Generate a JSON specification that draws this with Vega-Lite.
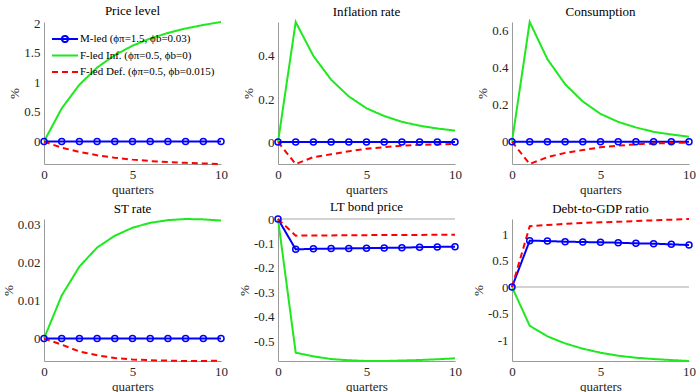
{
  "$schema": "https://vega.github.io/schema/vega-lite/v6.json",
  "padding": {"left": 2, "top": 5, "right": 5, "bottom": 0},
  "data": {"values": [
    {"p":"price","q":0,"M":0,"FI":0,"FD":0},
    {"p":"price","q":1,"M":0,"FI":0.56,"FD":-0.105},
    {"p":"price","q":2,"M":0,"FI":0.96,"FD":-0.175},
    {"p":"price","q":3,"M":0,"FI":1.25,"FD":-0.232},
    {"p":"price","q":4,"M":0,"FI":1.46,"FD":-0.275},
    {"p":"price","q":5,"M":0,"FI":1.62,"FD":-0.306},
    {"p":"price","q":6,"M":0,"FI":1.74,"FD":-0.33},
    {"p":"price","q":7,"M":0,"FI":1.835,"FD":-0.347},
    {"p":"price","q":8,"M":0,"FI":1.91,"FD":-0.36},
    {"p":"price","q":9,"M":0,"FI":1.97,"FD":-0.371},
    {"p":"price","q":10,"M":0,"FI":2.02,"FD":-0.38},
    {"p":"infl","q":0,"M":0,"FI":0,"FD":0},
    {"p":"infl","q":1,"M":0,"FI":0.558,"FD":-0.102},
    {"p":"infl","q":2,"M":0,"FI":0.40,"FD":-0.07},
    {"p":"infl","q":3,"M":0,"FI":0.29,"FD":-0.057},
    {"p":"infl","q":4,"M":0,"FI":0.212,"FD":-0.043},
    {"p":"infl","q":5,"M":0,"FI":0.157,"FD":-0.031},
    {"p":"infl","q":6,"M":0,"FI":0.121,"FD":-0.024},
    {"p":"infl","q":7,"M":0,"FI":0.094,"FD":-0.017},
    {"p":"infl","q":8,"M":0,"FI":0.076,"FD":-0.013},
    {"p":"infl","q":9,"M":0,"FI":0.063,"FD":-0.011},
    {"p":"infl","q":10,"M":0,"FI":0.053,"FD":-0.009},
    {"p":"cons","q":0,"M":0,"FI":0,"FD":0},
    {"p":"cons","q":1,"M":0,"FI":0.645,"FD":-0.12},
    {"p":"cons","q":2,"M":0,"FI":0.445,"FD":-0.083},
    {"p":"cons","q":3,"M":0,"FI":0.31,"FD":-0.06},
    {"p":"cons","q":4,"M":0,"FI":0.217,"FD":-0.045},
    {"p":"cons","q":5,"M":0,"FI":0.15,"FD":-0.03},
    {"p":"cons","q":6,"M":0,"FI":0.107,"FD":-0.021},
    {"p":"cons","q":7,"M":0,"FI":0.077,"FD":-0.014},
    {"p":"cons","q":8,"M":0,"FI":0.053,"FD":-0.009},
    {"p":"cons","q":9,"M":0,"FI":0.039,"FD":-0.007},
    {"p":"cons","q":10,"M":0,"FI":0.027,"FD":-0.005},
    {"p":"st","q":0,"M":0,"FI":0,"FD":0},
    {"p":"st","q":1,"M":0,"FI":0.0113,"FD":-0.0016},
    {"p":"st","q":2,"M":0,"FI":0.0189,"FD":-0.0034},
    {"p":"st","q":3,"M":0,"FI":0.0239,"FD":-0.0044},
    {"p":"st","q":4,"M":0,"FI":0.027,"FD":-0.0051},
    {"p":"st","q":5,"M":0,"FI":0.0291,"FD":-0.0055},
    {"p":"st","q":6,"M":0,"FI":0.0304,"FD":-0.0057},
    {"p":"st","q":7,"M":0,"FI":0.0311,"FD":-0.0058},
    {"p":"st","q":8,"M":0,"FI":0.0314,"FD":-0.0059},
    {"p":"st","q":9,"M":0,"FI":0.0313,"FD":-0.0059},
    {"p":"st","q":10,"M":0,"FI":0.031,"FD":-0.0058},
    {"p":"lt","q":0,"M":0,"FI":0,"FD":0},
    {"p":"lt","q":1,"M":-0.124,"FI":-0.546,"FD":-0.068},
    {"p":"lt","q":2,"M":-0.122,"FI":-0.561,"FD":-0.067},
    {"p":"lt","q":3,"M":-0.121,"FI":-0.572,"FD":-0.067},
    {"p":"lt","q":4,"M":-0.12,"FI":-0.577,"FD":-0.066},
    {"p":"lt","q":5,"M":-0.119,"FI":-0.58,"FD":-0.066},
    {"p":"lt","q":6,"M":-0.118,"FI":-0.58,"FD":-0.065},
    {"p":"lt","q":7,"M":-0.117,"FI":-0.578,"FD":-0.065},
    {"p":"lt","q":8,"M":-0.115,"FI":-0.576,"FD":-0.065},
    {"p":"lt","q":9,"M":-0.114,"FI":-0.573,"FD":-0.064},
    {"p":"lt","q":10,"M":-0.113,"FI":-0.569,"FD":-0.064},
    {"p":"debt","q":0,"M":0,"FI":0,"FD":0},
    {"p":"debt","q":1,"M":0.874,"FI":-0.73,"FD":1.145},
    {"p":"debt","q":2,"M":0.868,"FI":-0.93,"FD":1.17},
    {"p":"debt","q":3,"M":0.855,"FI":-1.063,"FD":1.19},
    {"p":"debt","q":4,"M":0.849,"FI":-1.163,"FD":1.21},
    {"p":"debt","q":5,"M":0.843,"FI":-1.239,"FD":1.22},
    {"p":"debt","q":6,"M":0.836,"FI":-1.296,"FD":1.23},
    {"p":"debt","q":7,"M":0.824,"FI":-1.333,"FD":1.245},
    {"p":"debt","q":8,"M":0.818,"FI":-1.358,"FD":1.258},
    {"p":"debt","q":9,"M":0.805,"FI":-1.377,"FD":1.27},
    {"p":"debt","q":10,"M":0.792,"FI":-1.395,"FD":1.283}
  ]},
  "columns": 3,
  "spacing": {"row": 55, "column": 57},
  "bounds": "flush",
  "resolve": {"scale": {"x": "independent", "y": "independent", "color": "independent", "strokeDash": "independent"}},
  "concat": [
    {
      "title": {"text": "Price level", "fontWeight": "normal"}, "width": 177, "height": 142,
      "layer": [
        {"data": {"values": [{}]}, "mark": {"type": "rule", "color": "#a6a6a6", "strokeWidth": 1}, "encoding": {"y": {"datum": 0, "type": "quantitative"}}},
        {"transform": [{"filter": "datum.p==='price'"}, {"fold": ["M","FI","FD"], "as": ["s","v"]}],
         "mark": {"type": "line", "strokeWidth": 2},
         "encoding": {
           "x": {"field": "q", "type": "quantitative", "scale": {"domain": [0,10], "nice": false}, "axis": {"values": [0,5,10], "title": "quarters", "labelExpr": "''+datum.value"}},
           "y": {"field": "v", "type": "quantitative", "scale": {"nice": false, "zero": false}, "axis": {"values": [0,0.5,1,1.5,2], "tickCount": 20, "title": "%", "labelOverlap": false, "labelExpr": "''+datum.value"}},
           "color": {"field": "s", "type": "nominal", "scale": {"domain": ["M","FI","FD"], "range": ["#0000ff","#1ee81e","#ff0000"]},
             "legend": {"orient": "none", "legendX": 7, "legendY": 10, "title": null, "padding": 0, "symbolSize": 676, "symbolStrokeWidth": 2, "clipHeight": 14, "rowPadding": 2.5, "labelOffset": 1, "labelFont": "Liberation Serif", "labelFontSize": 11, "labelColor": "#000000",
               "labelExpr": "datum.value==='M' ? 'M-led (ϕπ=1.5, ϕb=0.03)' : datum.value==='FI' ? 'F-led Inf. (ϕπ=0.5, ϕb=0)' : 'F-led Def. (ϕπ=0.5, ϕb=0.015)'",
               "encode": {"symbols": {"update": {
                 "shape": {"signal": "datum.value==='M' ? 'M-1,0L1,0M0.24,0A0.24,0.24,0,1,1,-0.24,0A0.24,0.24,0,1,1,0.24,0' : 'stroke'"},
                 "fill": {"value": "transparent"},
                 "strokeDash": {"signal": "datum.value==='FD' ? [6,4] : [1,0]"}
               }}}}},
           "strokeDash": {"field": "s", "type": "nominal", "scale": {"domain": ["M","FI","FD"], "range": [[1,0],[1,0],[6,4]]}, "legend": null}
         }},
        {"transform": [{"filter": "datum.p==='price'"}],
         "mark": {"type": "point", "shape": "circle", "filled": false, "size": 36, "strokeWidth": 1.5, "color": "#0000ff", "opacity": 1},
         "encoding": {"x": {"field": "q", "type": "quantitative"}, "y": {"field": "M", "type": "quantitative"}}}
      ]
    },
    {
      "title": {"text": "Inflation rate", "fontWeight": "normal"}, "width": 177, "height": 142,
      "layer": [
        {"data": {"values": [{}]}, "mark": {"type": "rule", "color": "#a6a6a6", "strokeWidth": 1}, "encoding": {"y": {"datum": 0, "type": "quantitative"}}},
        {"transform": [{"filter": "datum.p==='infl'"}, {"fold": ["M","FI","FD"], "as": ["s","v"]}],
         "mark": {"type": "line", "strokeWidth": 2},
         "encoding": {
           "x": {"field": "q", "type": "quantitative", "scale": {"domain": [0,10], "nice": false}, "axis": {"values": [0,5,10], "title": "quarters", "labelExpr": "''+datum.value"}},
           "y": {"field": "v", "type": "quantitative", "scale": {"nice": false, "zero": false}, "axis": {"values": [0,0.2,0.4], "tickCount": 20, "title": "%", "labelOverlap": false, "labelExpr": "''+datum.value"}},
           "color": {"field": "s", "type": "nominal", "scale": {"domain": ["M","FI","FD"], "range": ["#0000ff","#1ee81e","#ff0000"]}, "legend": null},
           "strokeDash": {"field": "s", "type": "nominal", "scale": {"domain": ["M","FI","FD"], "range": [[1,0],[1,0],[6,4]]}, "legend": null}
         }},
        {"transform": [{"filter": "datum.p==='infl'"}],
         "mark": {"type": "point", "shape": "circle", "filled": false, "size": 36, "strokeWidth": 1.5, "color": "#0000ff", "opacity": 1},
         "encoding": {"x": {"field": "q", "type": "quantitative"}, "y": {"field": "M", "type": "quantitative"}}}
      ]
    },
    {
      "title": {"text": "Consumption", "fontWeight": "normal"}, "width": 177, "height": 142,
      "layer": [
        {"data": {"values": [{}]}, "mark": {"type": "rule", "color": "#a6a6a6", "strokeWidth": 1}, "encoding": {"y": {"datum": 0, "type": "quantitative"}}},
        {"transform": [{"filter": "datum.p==='cons'"}, {"fold": ["M","FI","FD"], "as": ["s","v"]}],
         "mark": {"type": "line", "strokeWidth": 2},
         "encoding": {
           "x": {"field": "q", "type": "quantitative", "scale": {"domain": [0,10], "nice": false}, "axis": {"values": [0,5,10], "title": "quarters", "labelExpr": "''+datum.value"}},
           "y": {"field": "v", "type": "quantitative", "scale": {"nice": false, "zero": false}, "axis": {"values": [0,0.2,0.4,0.6], "tickCount": 20, "title": "%", "labelOverlap": false, "labelExpr": "''+datum.value"}},
           "color": {"field": "s", "type": "nominal", "scale": {"domain": ["M","FI","FD"], "range": ["#0000ff","#1ee81e","#ff0000"]}, "legend": null},
           "strokeDash": {"field": "s", "type": "nominal", "scale": {"domain": ["M","FI","FD"], "range": [[1,0],[1,0],[6,4]]}, "legend": null}
         }},
        {"transform": [{"filter": "datum.p==='cons'"}],
         "mark": {"type": "point", "shape": "circle", "filled": false, "size": 36, "strokeWidth": 1.5, "color": "#0000ff", "opacity": 1},
         "encoding": {"x": {"field": "q", "type": "quantitative"}, "y": {"field": "M", "type": "quantitative"}}}
      ]
    },
    {
      "title": {"text": "ST rate", "fontWeight": "normal"}, "width": 177, "height": 142,
      "layer": [
        {"data": {"values": [{}]}, "mark": {"type": "rule", "color": "#a6a6a6", "strokeWidth": 1}, "encoding": {"y": {"datum": 0, "type": "quantitative"}}},
        {"transform": [{"filter": "datum.p==='st'"}, {"fold": ["M","FI","FD"], "as": ["s","v"]}],
         "mark": {"type": "line", "strokeWidth": 2},
         "encoding": {
           "x": {"field": "q", "type": "quantitative", "scale": {"domain": [0,10], "nice": false}, "axis": {"values": [0,5,10], "title": "quarters", "labelExpr": "''+datum.value"}},
           "y": {"field": "v", "type": "quantitative", "scale": {"nice": false, "zero": false}, "axis": {"values": [0,0.01,0.02,0.03], "tickCount": 20, "title": "%", "labelOverlap": false, "labelExpr": "''+datum.value"}},
           "color": {"field": "s", "type": "nominal", "scale": {"domain": ["M","FI","FD"], "range": ["#0000ff","#1ee81e","#ff0000"]}, "legend": null},
           "strokeDash": {"field": "s", "type": "nominal", "scale": {"domain": ["M","FI","FD"], "range": [[1,0],[1,0],[6,4]]}, "legend": null}
         }},
        {"transform": [{"filter": "datum.p==='st'"}],
         "mark": {"type": "point", "shape": "circle", "filled": false, "size": 36, "strokeWidth": 1.5, "color": "#0000ff", "opacity": 1},
         "encoding": {"x": {"field": "q", "type": "quantitative"}, "y": {"field": "M", "type": "quantitative"}}}
      ]
    },
    {
      "title": {"text": "LT bond price", "fontWeight": "normal"}, "width": 177, "height": 142,
      "layer": [
        {"data": {"values": [{}]}, "mark": {"type": "rule", "color": "#a6a6a6", "strokeWidth": 1}, "encoding": {"y": {"datum": 0, "type": "quantitative"}}},
        {"transform": [{"filter": "datum.p==='lt'"}, {"fold": ["M","FI","FD"], "as": ["s","v"]}],
         "mark": {"type": "line", "strokeWidth": 2},
         "encoding": {
           "x": {"field": "q", "type": "quantitative", "scale": {"domain": [0,10], "nice": false}, "axis": {"values": [0,5,10], "title": "quarters", "labelExpr": "''+datum.value"}},
           "y": {"field": "v", "type": "quantitative", "scale": {"nice": false, "zero": false}, "axis": {"values": [0,-0.1,-0.2,-0.3,-0.4,-0.5], "tickCount": 20, "title": "%", "labelOverlap": false, "labelExpr": "''+datum.value"}},
           "color": {"field": "s", "type": "nominal", "scale": {"domain": ["M","FI","FD"], "range": ["#0000ff","#1ee81e","#ff0000"]}, "legend": null},
           "strokeDash": {"field": "s", "type": "nominal", "scale": {"domain": ["M","FI","FD"], "range": [[1,0],[1,0],[6,4]]}, "legend": null}
         }},
        {"transform": [{"filter": "datum.p==='lt'"}],
         "mark": {"type": "point", "shape": "circle", "filled": false, "size": 36, "strokeWidth": 1.5, "color": "#0000ff", "opacity": 1},
         "encoding": {"x": {"field": "q", "type": "quantitative"}, "y": {"field": "M", "type": "quantitative"}}}
      ]
    },
    {
      "title": {"text": "Debt-to-GDP ratio", "fontWeight": "normal"}, "width": 177, "height": 142,
      "layer": [
        {"data": {"values": [{}]}, "mark": {"type": "rule", "color": "#a6a6a6", "strokeWidth": 1}, "encoding": {"y": {"datum": 0, "type": "quantitative"}}},
        {"transform": [{"filter": "datum.p==='debt'"}, {"fold": ["M","FI","FD"], "as": ["s","v"]}],
         "mark": {"type": "line", "strokeWidth": 2},
         "encoding": {
           "x": {"field": "q", "type": "quantitative", "scale": {"domain": [0,10], "nice": false}, "axis": {"values": [0,5,10], "title": "quarters", "labelExpr": "''+datum.value"}},
           "y": {"field": "v", "type": "quantitative", "scale": {"nice": false, "zero": false}, "axis": {"values": [-1,-0.5,0,0.5,1], "tickCount": 20, "title": "%", "labelOverlap": false, "labelExpr": "''+datum.value"}},
           "color": {"field": "s", "type": "nominal", "scale": {"domain": ["M","FI","FD"], "range": ["#0000ff","#1ee81e","#ff0000"]}, "legend": null},
           "strokeDash": {"field": "s", "type": "nominal", "scale": {"domain": ["M","FI","FD"], "range": [[1,0],[1,0],[6,4]]}, "legend": null}
         }},
        {"transform": [{"filter": "datum.p==='debt'"}],
         "mark": {"type": "point", "shape": "circle", "filled": false, "size": 36, "strokeWidth": 1.5, "color": "#0000ff", "opacity": 1},
         "encoding": {"x": {"field": "q", "type": "quantitative"}, "y": {"field": "M", "type": "quantitative"}}}
      ]
    }
  ],
  "config": {
    "view": {"stroke": null},
    "font": "Liberation Serif",
    "axis": {"domainColor": "#9a9a9a", "domainWidth": 1, "ticks": false, "grid": false, "labelFont": "Liberation Serif", "labelFontSize": 13, "labelColor": "#262626", "labelPadding": 4, "labelFlush": false, "labelOverlap": false, "titleFont": "Liberation Serif", "titleFontSize": 13, "titleFontWeight": "normal", "titleColor": "#262626", "titlePadding": 2},
    "title": {"font": "Liberation Serif", "fontSize": 13, "fontWeight": "normal", "color": "#000000", "offset": -1, "anchor": "middle"}
  }
}
